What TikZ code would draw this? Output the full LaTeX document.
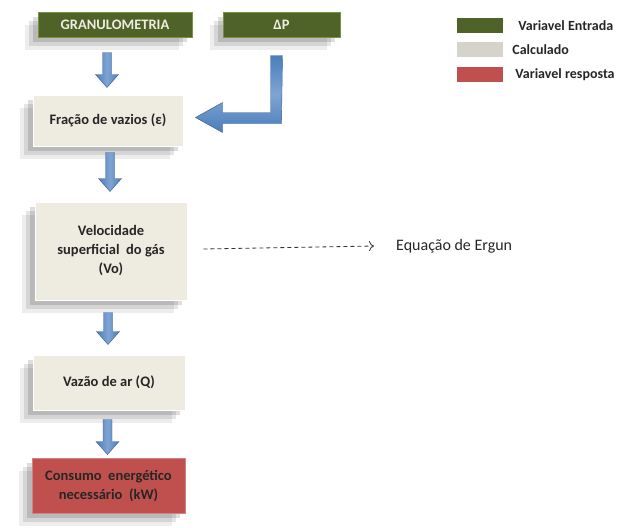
\documentclass[tikz,border=0pt]{standalone}
\usepackage{fontspec}
\setmainfont{Carlito}
\usetikzlibrary{calc,arrows.meta,shadows}

\definecolor{entrada}{HTML}{4F6228}
\definecolor{entradaborda}{HTML}{77933C}
\definecolor{calculado}{HTML}{EEECE1}
\definecolor{resposta}{HTML}{C0504D}
\definecolor{seta}{HTML}{4A7EBB}
\definecolor{setaclara}{HTML}{7FA4D3}
\definecolor{setaborda}{HTML}{385D8A}

\tikzset{
  sombra/.style = {
    general shadow={fill=black, opacity=0.07, shadow xshift=-13pt, shadow yshift=-13pt},
    general shadow={fill=black, opacity=0.10, shadow xshift=-9pt, shadow yshift=-9pt},
    general shadow={fill=black, opacity=0.13, shadow xshift=-5pt, shadow yshift=-5pt}},
  caixa/.style = {rectangle, align=center, inner sep=2pt, sombra,
    font=\bfseries\fontsize{14.5}{19}\selectfont},
  entradabox/.style = {caixa, fill=entrada, draw=entradaborda, line width=1pt, text=calculado},
  calcbox/.style = {caixa, fill=calculado, draw=white, line width=1pt, text=black!85},
  respbox/.style = {caixa, fill=resposta, draw=resposta!70, line width=1pt, text=black!85},
  legenda/.style = {rectangle, minimum width=46pt, minimum height=15pt, inner sep=0pt},
  legtexto/.style = {anchor=west, inner sep=0pt, font=\bfseries\fontsize{14}{16}\selectfont, text=black!85},
  setabloco/.style = {draw=setaborda, line width=0.4pt, left color=seta, right color=seta, middle color=setaclara},
}

% block arrow from the bottom of one box to the top of the next
\newcommand{\setabaixo}[4]{%
  \coordinate (t) at ($(#2.north)+(-1,-#4)$);
  \coordinate (s) at (t |- #1.south);
  \draw[setabloco] ($(s)+(-4.5,#3)$) -- ($(t)+(-4.5,-13)$) -- ($(t)+(-11.5,-13)$) -- (t)
    -- ($(t)+(11.5,-13)$) -- ($(t)+(4.5,-13)$) -- ($(s)+(4.5,#3)$) -- cycle;
}

\begin{document}
\begin{tikzpicture}[x=1pt, y=-1pt]
    \useasboundingbox (0,0) rectangle (622,528);

    % Entry variables
    \node[entradabox, minimum width=154pt, minimum height=25pt] (gran) at (115,24.5) {GRANULOMETRIA};
    \node[entradabox, minimum width=117pt, minimum height=25pt] (dp) at (281.5,24.5) {ΔP};

    % Calculated boxes
    \node[calcbox, minimum width=150pt, minimum height=51pt] (fracao) at (108,120.5) {Fração de vazios (ε)};
    \node[calcbox, minimum width=152pt, minimum height=98pt] (velo) at (111,251) {Velocidade\\superficial\ \ do gás\\(Vo)};
    \node[calcbox, minimum width=152pt, minimum height=55pt] (vazao) at (109,382.5) {Vazão de ar (Q)};

    % Answer
    \node[respbox, minimum width=153pt, minimum height=55pt] (consumo) at (108.5,485.5) {Consumo\ \ energético\\necessário\ \ (kW)};

    % Down arrows
    \setabaixo{gran}{fracao}{15}{7}
    \setabaixo{fracao}{velo}{6}{10}
    \setabaixo{velo}{vazao}{12}{10}
    \setabaixo{vazao}{consumo}{9}{3}

    % Elbow arrow from Delta P
    \coordinate (c) at ($(dp.south)+(0,86)$);
    \coordinate (p) at ($(fracao.east)+(12,-3)$);
    \draw[setabloco, left color=seta, right color=seta, middle color=setaclara, shading angle=0]
      ($(dp.south)+(-11,18)$) -- ($(dp.south)+(1,18)$) -- (c) -- ($(c)+(-59,0)$)
      -- ($(c)+(-59,9)$) -- (p) -- ($(c)+(-59,-21)$) -- ($(c)+(-59,-11)$)
      -- ($(c)+(-11,-11)$) -- cycle;

    % Dashed link to the equation
    \node[anchor=west, inner sep=0pt, font=\fontsize{16}{18}\selectfont, text=black!85] (ergun) at (396,246) {Equação de Ergun};
    \coordinate (d) at ($(velo.east)+(16,-2)$);
    \draw[dash pattern=on 4pt off 3pt, -{To[length=5pt, width=10pt]}, black!80, line width=0.8pt] (d) -- ($(ergun.west)+(-22,0)$ |- d);

    % Legend
    \node[legenda, fill=entrada] (lg1) at (480,25.5) {};
    \node[legenda, fill=calculado!90!black] (lg2) at (480,49.5) {};
    \node[legenda, fill=resposta] (lg3) at (480,74.5) {};
    \node[legtexto] at ($(lg1.east)+(15,0)$) {Variavel Entrada};
    \node[legtexto] at ($(lg2.east)+(9,0)$) {Calculado};
    \node[legtexto] at ($(lg3.east)+(12,0)$) {Variavel resposta};
\end{tikzpicture}
\end{document}
